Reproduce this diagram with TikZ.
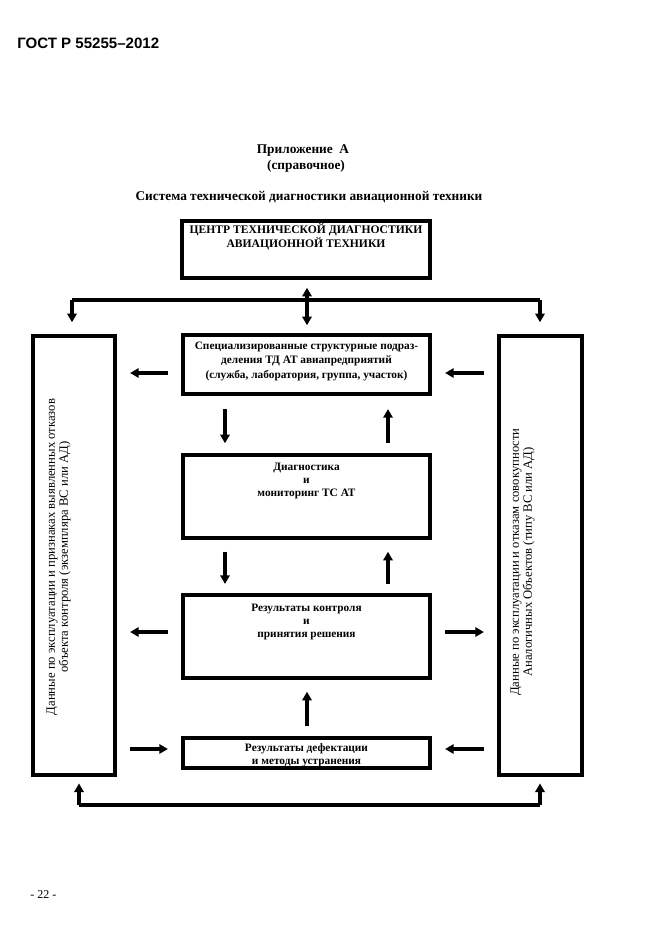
\documentclass[tikz,border=0pt]{standalone}
\usepackage{fontspec}
\setmainfont{Liberation Serif}
\newfontfamily\hdrfont{Liberation Sans}
\usetikzlibrary{arrows.meta}
\begin{document}
\begin{tikzpicture}[x=0.75pt,y=-0.75pt,
 box/.style={draw,line width=2.6pt,inner sep=0pt},
 conn/.style={line width=2.6pt},
 arr/.style={conn,-{Triangle[length=6.5pt,width=7pt]}},
 darr/.style={conn,{Triangle[length=6.5pt,width=7pt]}-{Triangle[length=6.5pt,width=7pt]}},
 btext/.style={font=\bfseries\fontsize{8.5}{10.5}\selectfont,align=center,inner sep=0pt},
 vtext/.style={font=\fontsize{9.5}{9.75}\selectfont,align=center,inner sep=0pt,rotate=90},
 ttext/.style={font=\bfseries\fontsize{10}{12}\selectfont,inner sep=0pt}]
\useasboundingbox (0,0) rectangle (661,936);

% header and titles
\node[font=\hdrfont\bfseries\fontsize{11.3}{13}\selectfont,anchor=west,inner sep=0pt] (hdr) at (17,43) {ГОСТ Р 55255–2012};
\node[ttext] (t1) at (303,151) {Приложение\ \ А};
\node[ttext] (t2) at (306,166) {(справочное)};
\node[ttext] (t3) at (309,197) {Система технической диагностики авиационной техники};
\node[font=\fontsize{9}{11}\selectfont,anchor=west,inner sep=0pt] (pg) at (30,895) {- 22 -};

% boxes
\node[box,minimum width=186pt,minimum height=42.75pt] (top) at (306,249.5) {};
\node[box,minimum width=185.25pt,minimum height=44.25pt] (spec) at (306.5,364.5) {};
\node[box,minimum width=185.25pt,minimum height=62.25pt] (diag) at (306.5,496.5) {};
\node[box,minimum width=185.25pt,minimum height=62.25pt] (res) at (306.5,636.5) {};
\node[box,minimum width=185.25pt,minimum height=22.5pt] (def) at (306.5,753) {};
\node[box,minimum width=61.5pt,minimum height=329.25pt] (left) at (74,555.5) {};
\node[box,minimum width=62.25pt,minimum height=329.25pt] (right) at (540.5,555.5) {};

% box texts
\node[btext,font=\bfseries\fontsize{8.7}{9}\selectfont] (toptxt) at (306,237) {ЦЕНТР ТЕХНИЧЕСКОЙ ДИАГНОСТИКИ\\АВИАЦИОННОЙ ТЕХНИКИ};
\node[btext,font=\bfseries\fontsize{8.5}{10.9}\selectfont] (spectxt) at (306.5,361) {Специализированные структурные подраз-\\деления ТД АТ авиапредприятий\\(служба, лаборатория, группа, участок)};
\node[btext,font=\bfseries\fontsize{8.5}{9.75}\selectfont] (diagtxt) at (306.5,480.5) {Диагностика\\и\\мониторинг ТС АТ};
\node[btext,font=\bfseries\fontsize{8.5}{9.75}\selectfont] (restxt) at (306.5,621.5) {Результаты контроля\\и\\принятия решения};
\node[btext,font=\bfseries\fontsize{8.5}{9.75}\selectfont] (deftxt) at (306.5,755.5) {Результаты дефектации\\и методы устранения};
\node[vtext] (lefttxt) at (58.5,557) {Данные по эксплуатации и признаках выявленных отказов\\объекта контроля (экземпляра ВС или АД)};
\node[vtext] (righttxt) at (522.5,562) {Данные по эксплуатации и отказам совокупности\\Аналогичных Объектов (типу ВС или АД)};

% helper coordinates
\coordinate (hl) at (72,300);
\coordinate (hr) at (540,300);
\coordinate (bl) at (79,805);
\coordinate (br) at (540,805);
\coordinate (ya) at (0,373);
\coordinate (yb) at (0,632);
\coordinate (yc) at (0,749);
\coordinate (xl) at (225,0);
\coordinate (xr) at (388,0);
\coordinate (xm) at (307,0);

% top distribution line
\draw[conn] (hl) -- (hr);
\draw[arr,shorten >=9pt] (hl) -- (hl |- left.north);
\draw[arr,shorten >=9pt] (hr) -- (hr |- right.north);
\draw[darr,shorten <=6pt,shorten >=6pt] (xm |- top.south) -- (xm |- spec.north);

% bottom collecting line
\draw[conn] (bl) -- (br);
\draw[arr,shorten >=5pt] (bl) -- (bl |- left.south);
\draw[arr,shorten >=5pt] (br) -- (br |- right.south);

% horizontal arrows
\draw[arr,shorten <=10pt,shorten >=10pt] (spec.west |- ya) -- (left.east |- ya);
\draw[arr,shorten <=10pt,shorten >=10pt] (right.west |- ya) -- (spec.east |- ya);
\draw[arr,shorten <=10pt,shorten >=10pt] (res.west |- yb) -- (left.east |- yb);
\draw[arr,shorten <=10pt,shorten >=10pt] (res.east |- yb) -- (right.west |- yb);
\draw[arr,shorten <=10pt,shorten >=10pt] (left.east |- yc) -- (def.west |- yc);
\draw[arr,shorten <=10pt,shorten >=10pt] (right.west |- yc) -- (def.east |- yc);

% vertical arrows
\draw[arr,shorten <=10pt,shorten >=7.5pt] (xl |- spec.south) -- (xl |- diag.north);
\draw[arr,shorten <=7.5pt,shorten >=10pt] (xr |- diag.north) -- (xr |- spec.south);
\draw[arr,shorten <=9pt,shorten >=7pt] (xl |- diag.south) -- (xl |- res.north);
\draw[arr,shorten <=7pt,shorten >=9pt] (xr |- res.north) -- (xr |- diag.south);
\draw[arr,shorten <=7.5pt,shorten >=9pt] (xm |- def.north) -- (xm |- res.south);
\end{tikzpicture}
\end{document}
